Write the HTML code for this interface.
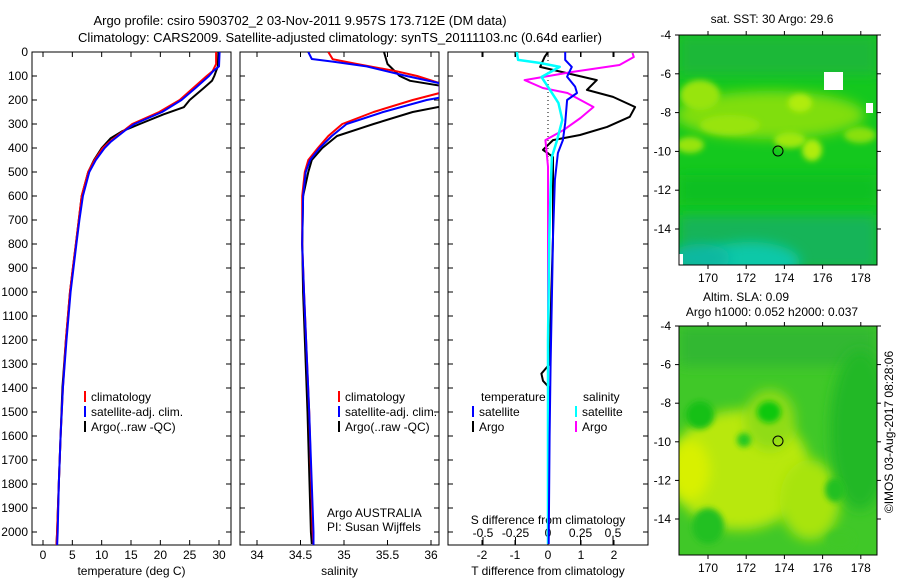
<!DOCTYPE html>
<html><head><meta charset="utf-8"><style>
body{margin:0;background:#fff;}
svg text{font-family:"Liberation Sans",sans-serif;fill:#000;}
</style></head><body>
<svg id="c" width="900" height="580" xmlns="http://www.w3.org/2000/svg">
<defs>
<clipPath id="cp1"><rect x="32" y="52" width="199" height="493"/></clipPath>
<clipPath id="cp2"><rect x="240" y="52" width="199" height="493"/></clipPath>
<clipPath id="cp3"><rect x="448" y="52" width="200" height="493"/></clipPath>
<clipPath id="cm1"><rect x="679" y="35" width="198" height="230"/></clipPath>
<clipPath id="cm2"><rect x="679" y="326" width="198" height="229"/></clipPath>
<filter id="bl" x="-50%" y="-50%" width="200%" height="200%"><feGaussianBlur stdDeviation="6"/></filter>
<filter id="bl2" x="-50%" y="-50%" width="200%" height="200%"><feGaussianBlur stdDeviation="3"/></filter>
</defs>
<text x="300" y="25" text-anchor="middle" font-size="13">Argo profile: csiro 5903702_2 03-Nov-2011 9.957S 173.712E (DM data)</text>
<text x="340" y="42" text-anchor="middle" font-size="13">Climatology: CARS2009. Satellite-adjusted climatology: synTS_20111103.nc (0.64d earlier)</text>

<g>
<text x="772" y="23" text-anchor="middle" font-size="12">sat. SST: 30 Argo: 29.6</text>
<g clip-path="url(#cm1)">
<rect x="679" y="35" width="198" height="230" fill="#14c81e"/>
<rect x="679" y="35" width="198" height="40" fill="#1cb838" filter="url(#bl)"/>
<ellipse cx="770" cy="115" rx="95" ry="24" fill="#80de10" filter="url(#bl)"/>
<ellipse cx="700" cy="95" rx="20" ry="15" fill="#98e410" filter="url(#bl2)"/>
<ellipse cx="800" cy="103" rx="12" ry="9" fill="#b0ec08" filter="url(#bl2)"/>
<ellipse cx="812" cy="150" rx="10" ry="11" fill="#b0ec08" filter="url(#bl2)"/>
<ellipse cx="790" cy="140" rx="16" ry="8" fill="#a0e808" filter="url(#bl2)"/>
<ellipse cx="730" cy="125" rx="30" ry="10" fill="#98e410" filter="url(#bl2)"/>
<ellipse cx="690" cy="145" rx="14" ry="8" fill="#98e410" filter="url(#bl2)"/>
<ellipse cx="860" cy="135" rx="16" ry="8" fill="#88e010" filter="url(#bl2)"/>
<rect x="679" y="175" width="198" height="30" fill="#10c020" filter="url(#bl)"/>
<rect x="679" y="215" width="198" height="55" fill="#18b458" filter="url(#bl)"/>
<ellipse cx="750" cy="262" rx="50" ry="20" fill="#10c8a8" filter="url(#bl)"/>
<ellipse cx="700" cy="258" rx="30" ry="14" fill="#10b8a0" filter="url(#bl)"/>
<rect x="824" y="72" width="19" height="18" fill="#fff"/>
<rect x="866" y="103" width="7" height="10" fill="#fff"/>
<rect x="679" y="254" width="4" height="11" fill="#fff"/>
</g>
<rect x="679" y="35" width="198" height="230" fill="none" stroke="#000"/>
<circle cx="778" cy="151" r="5" fill="none" stroke="#000"/>
<g id="m1ax"></g>
</g>

<g>
<text x="746" y="301" text-anchor="middle" font-size="12">Altim. SLA: 0.09</text>
<text x="772" y="316" text-anchor="middle" font-size="12">Argo h1000: 0.052 h2000: 0.037</text>
<g clip-path="url(#cm2)">
<rect x="679" y="326" width="198" height="229" fill="#40c828"/>
<rect x="679" y="326" width="198" height="40" fill="#30b830" filter="url(#bl)"/>
<ellipse cx="740" cy="470" rx="70" ry="60" fill="#b8e810" filter="url(#bl)"/>
<ellipse cx="690" cy="470" rx="20" ry="30" fill="#d8f000" filter="url(#bl)"/>
<ellipse cx="770" cy="420" rx="25" ry="30" fill="#90dc18" filter="url(#bl)"/>
<ellipse cx="810" cy="500" rx="30" ry="40" fill="#a8e410" filter="url(#bl)"/>
<ellipse cx="860" cy="430" rx="30" ry="80" fill="#20b828" filter="url(#bl)"/>
<ellipse cx="700" cy="415" rx="14" ry="14" fill="#18c018" filter="url(#bl2)"/>
<ellipse cx="769" cy="412" rx="12" ry="11" fill="#10c810" filter="url(#bl2)"/>
<ellipse cx="744" cy="440" rx="7" ry="7" fill="#20c820" filter="url(#bl2)"/>
<ellipse cx="708" cy="526" rx="16" ry="18" fill="#20c020" filter="url(#bl2)"/>
<ellipse cx="835" cy="490" rx="10" ry="12" fill="#20c020" filter="url(#bl2)"/>
<ellipse cx="840" cy="540" rx="14" ry="10" fill="#40c828" filter="url(#bl2)"/>
</g>
<rect x="679" y="326" width="198" height="229" fill="none" stroke="#000"/>
<circle cx="778" cy="441" r="5" fill="none" stroke="#000"/>
<g id="m2ax"></g>
<text transform="translate(893,432) rotate(-90)" text-anchor="middle" font-size="12">©IMOS 03-Aug-2017 08:28:06</text>
</g>

<g id="p1"></g>
<g id="p2"></g>
<g id="p3"></g>
</svg>
<script>
// ---- data ----
const tempClimDepth=[0,50,80,100,150,200,250,300,325,350,375,400,450,500,600,700,800,900,1000,1200,1400,1600,1800,2000,2060];
const tempClim=[29.5,29.5,28.9,27.9,25.6,23.3,19.8,15.2,13.9,12.6,11.3,10.2,8.8,7.7,6.6,6.1,5.6,5.1,4.6,3.9,3.4,3.0,2.7,2.4,2.3];
const tempSatDepth=[0,60,80,100,150,200,250,300,325,350,375,400,450,500,600,700,800,900,1000,1200,1400,1600,1800,2000,2060];
const tempSat=[30.1,30.0,29.0,28.3,26.0,23.6,20.3,15.6,14.1,12.8,11.5,10.5,9.0,7.9,6.8,6.2,5.7,5.2,4.7,4.0,3.4,3.0,2.7,2.5,2.4];
const tempArgoDepth=[0,60,100,120,150,200,230,260,300,330,360,400,450,500,600,700,800,900,1000,1200,1400,1600,1800,2000,2050];
const tempArgo=[29.9,29.8,29.2,28.8,27.4,25.0,24.0,20.5,16.5,13.5,11.5,10.0,8.7,7.7,6.6,6.1,5.6,5.1,4.6,3.9,3.3,3.0,2.7,2.4,2.3];

const salClimDepth=[0,30,50,80,100,130,171,200,250,300,350,400,450,500,600,800,1000,1500,2000,2060];
const salClim=[34.82,34.87,35.15,35.6,35.84,36.1,36.1,35.79,35.34,34.98,34.82,34.7,34.59,34.55,34.52,34.52,34.54,34.6,34.64,34.65];
const salSatDepth=[0,29,40,60,100,130,190,200,250,300,350,400,450,500,600,800,1000,1500,2000,2060];
const salSat=[34.59,34.63,34.87,35.26,35.72,36.1,36.1,35.95,35.45,35.03,34.86,34.72,34.61,34.56,34.53,34.52,34.54,34.6,34.65,34.65];
const salArgoDepth=[0,50,100,120,140,228,250,300,350,400,450,500,600,800,1000,1500,2000,2050];
const salArgo=[35.46,35.5,35.64,35.76,36.1,36.1,35.79,35.34,34.92,34.75,34.63,34.59,34.53,34.52,34.53,34.58,34.62,34.63];

const dTSatDepth=[0,33,62,103,144,171,200,296,367,421,533,771,1000,1300,1600,2050];
const dTSat=[0.52,0.52,0.72,0.58,0.82,0.88,0.58,0.52,0.45,0.3,0.21,0.15,0.12,0.08,0.05,0.02];
const dTArgoDepth=[0,20,62,117,158,187,229,270,312,346,367,408,437,575,771,1000,1300,1340,1370,1400,1700,2050];
const dTArgo=[0,-0.1,-0.24,1.48,1.18,1.97,2.64,2.48,1.79,0.97,0.15,-0.15,0.15,0.15,0.15,0.1,0.05,-0.2,-0.15,0.05,0.0,0.0];
const dSSatDepth=[0,33,46,62,104,158,212,283,367,437,575,771,1200,2050];
const dSSat=[-0.24,-0.23,-0.06,0.09,-0.05,0.015,0.08,0.11,0.07,0.03,0.02,0.01,0.0,0.0];
const dSArgoDepth=[4,21,54,83,117,150,171,229,275,325,367,421,478,700,1200,2050];
const dSArgo=[0.65,0.66,0.55,0.19,-0.18,-0.04,0.15,0.35,0.25,0.12,-0.02,-0.01,0.0,0.0,0.0,0.0];

const depthTicks=[0,100,200,300,400,500,600,700,800,900,1000,1100,1200,1300,1400,1500,1600,1700,1800,1900,2000];
const tempTicks=[0,5,10,15,20,25,30];
const salTicks=[34,34.5,35,35.5,36];
const dTTicks=[-2,-1,0,1,2];
const dSTicks=[-0.5,-0.25,0,0.25,0.5];
const lonTicks=[170,172,174,176,178];
const latTicks=[-4,-6,-8,-10,-12,-14];

// ---- scales ----
const yD=d=>52+d*0.24;
const xT=v=>43+v*5.867;
const xS=v=>257+(v-34)*87;
const xDT=v=>548+v*33;
const xDS=v=>548+v*130;
const mLon=v=>708+(v-170)*19.1;
const m1Lat=v=>35+(-4-v)*19.4;
const m2Lat=v=>326+(-4-v)*19.3;

const NS='http://www.w3.org/2000/svg';
function mk(tag,attrs,parent,txt){const e=document.createElementNS(NS,tag);for(const k in attrs)e.setAttribute(k,attrs[k]);if(txt!==undefined)e.textContent=txt;parent.appendChild(e);return e;}

function frame(g,x0,x1,xs,ticks,label,depthLabels){
  const r=mk('rect',{x:x0,y:52,width:x1-x0,height:493,fill:'none',stroke:'#000'},g);
  
  
  depthTicks.forEach(d=>{
    mk('line',{x1:x0,x2:x0+5,y1:yD(d),y2:yD(d),stroke:'#000'},g);
    mk('line',{x1:x1-5,x2:x1,y1:yD(d),y2:yD(d),stroke:'#000'},g);
    if(depthLabels){const t=mk('text',{x:28,y:yD(d)+4,'text-anchor':'end','font-size':12},g,String(d));
      
      }
  });
  if(ticks){ticks.forEach(v=>{
    mk('line',{x1:xs(v),x2:xs(v),y1:52,y2:57,stroke:'#000'},g);
    mk('line',{x1:xs(v),x2:xs(v),y1:540,y2:545,stroke:'#000'},g);
    const t=mk('text',{x:xs(v),y:559,'text-anchor':'middle','font-size':12},g,String(v));
    
    
  });}
  const t=mk('text',{x:(x0+x1)/2,y:575,'text-anchor':'middle','font-size':12},g,label);
  
  
}
function line(g,depths,vals,xs,color,clip,name,w){
  const pts=depths.map((d,i)=>xs(vals[i]).toFixed(1)+','+yD(d).toFixed(1)).join(' ');
  const p=mk('polyline',{points:pts,fill:'none',stroke:color,'stroke-width':w||2,'clip-path':'url(#'+clip+')','stroke-linejoin':'round'},g);
  
  
}
function legend(g,x,y,color,text){
  mk('line',{x1:x,x2:x,y1:y-10,y2:y+1,stroke:color,'stroke-width':2},g);
  const t=mk('text',{x:x+6,y:y,'font-size':12},g,text);
  
  
}

const p1=document.getElementById('p1');
frame(p1,32,231,xT,tempTicks,'temperature (deg C)',true);
line(p1,tempArgoDepth,tempArgo,xT,'#000','cp1','argo-temperature-line');
line(p1,tempClimDepth,tempClim,xT,'#f00','cp1','climatology-temperature-line');
line(p1,tempSatDepth,tempSat,xT,'#00f','cp1','satellite-temperature-line');
legend(p1,85,401,'#f00','climatology');legend(p1,85,416,'#00f','satellite-adj. clim.');legend(p1,85,431,'#000','Argo(..raw -QC)');

const p2=document.getElementById('p2');
frame(p2,240,439,xS,salTicks,'salinity',false);
line(p2,salArgoDepth,salArgo,xS,'#000','cp2','argo-salinity-line');
line(p2,salClimDepth,salClim,xS,'#f00','cp2','climatology-salinity-line');
line(p2,salSatDepth,salSat,xS,'#00f','cp2','satellite-salinity-line');
legend(p2,339,401,'#f00','climatology');legend(p2,339,416,'#00f','satellite-adj. clim.');legend(p2,339,431,'#000','Argo(..raw -QC)');
mk('text',{x:327,y:517,'font-size':12},p2,'Argo AUSTRALIA');
mk('text',{x:327,y:531,'font-size':12},p2,'PI: Susan Wijffels');

const p3=document.getElementById('p3');
frame(p3,448,648,xDT,dTTicks,'T difference from climatology',false);
mk('line',{x1:548,x2:548,y1:52,y2:200,stroke:'#000','stroke-dasharray':'1,3'},p3);
dSTicks.forEach(v=>{
  mk('line',{x1:xDS(v),x2:xDS(v),y1:52,y2:57,stroke:'#000'},p3);
  mk('line',{x1:xDS(v),x2:xDS(v),y1:537,y2:545,stroke:'#000'},p3);
  const t=mk('text',{x:xDS(v),y:537,'text-anchor':'middle','font-size':12},p3,String(v));
  
  
});
mk('text',{x:548,y:524,'text-anchor':'middle','font-size':12},p3,'S difference from climatology');
line(p3,dTArgoDepth,dTArgo,xDT,'#000','cp3','argo-t-diff-line');
line(p3,dSArgoDepth,dSArgo,xDS,'#f0f','cp3','argo-s-diff-line');
line(p3,dSSatDepth,dSSat,xDS,'#0ff','cp3','satellite-s-diff-line',2.5);
line(p3,dTSatDepth,dTSat,xDT,'#00f','cp3','satellite-t-diff-line');
mk('text',{x:481,y:401,'font-size':12},p3,'temperature');
mk('text',{x:583,y:401,'font-size':12},p3,'salinity');
legend(p3,473,416,'#00f','satellite');legend(p3,473,431,'#000','Argo');
legend(p3,576,416,'#0ff','satellite');legend(p3,576,431,'#f0f','Argo');

function mapAxes(id,top,bot,latf){
  const g=document.getElementById(id);
  lonTicks.forEach(v=>{
    mk('line',{x1:mLon(v),x2:mLon(v),y1:top-4,y2:top,stroke:'#000'},g);
    mk('line',{x1:mLon(v),x2:mLon(v),y1:bot,y2:bot+4,stroke:'#000'},g);
    const t=mk('text',{x:mLon(v),y:bot+17,'text-anchor':'middle','font-size':12},g,String(v));
    
    
  });
  latTicks.forEach(v=>{
    mk('line',{x1:675,x2:679,y1:latf(v),y2:latf(v),stroke:'#000'},g);
    mk('line',{x1:877,x2:881,y1:latf(v),y2:latf(v),stroke:'#000'},g);
    const t=mk('text',{x:671,y:latf(v)+4,'text-anchor':'end','font-size':12},g,String(v));
    
    
  });
}
mapAxes('m1ax',35,265,m1Lat);
mapAxes('m2ax',326,555,m2Lat);
</script>
</body></html>
